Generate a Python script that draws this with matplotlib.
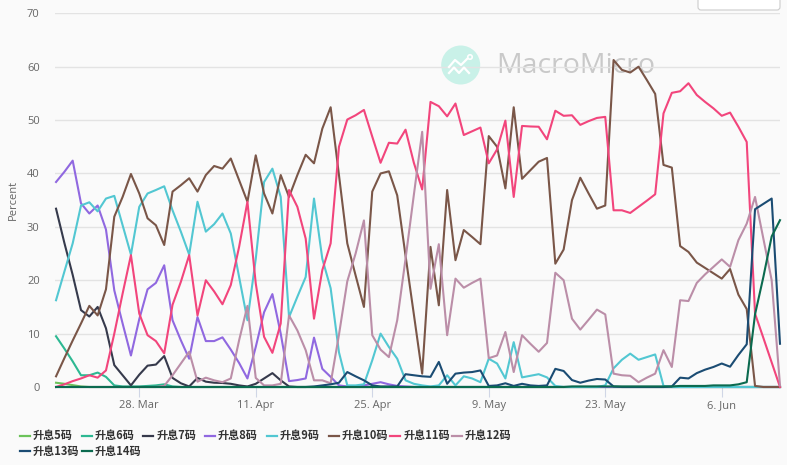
import matplotlib
matplotlib.use('Agg')
import matplotlib.pyplot as plt
import pandas as pd
from matplotlib.patches import Circle, FancyBboxPatch
from matplotlib.lines import Line2D

# ---------------- data ----------------
start_date = '2022-03-18'
n_days = 88
dates = pd.date_range(start_date, periods=n_days, freq='D')

tick_dates = ['2022-03-28', '2022-04-11', '2022-04-25', '2022-05-09', '2022-05-23', '2022-06-06']
tick_labels = ['28. Mar', '11. Apr', '25. Apr', '9. May', '23. May', '6. Jun']

names = ['升息5码', '升息6码', '升息7码', '升息8码', '升息9码',
         '升息10码', '升息11码', '升息12码', '升息13码', '升息14码']
colors = ['#6cc35a', '#2db892', '#363a4c', '#9068e0', '#52c7d2',
          '#7a5648', '#f2457c', '#bb8ea8', '#1b4c73', '#0b6a4f']

hike5 = [0.8, 0.6, 0.35, 0.1, 0, 0, 0, 0, 0, 0,
         0, 0, 0, 0, 0, 0, 0, 0, 0, 0,
         0, 0, 0, 0, 0, 0, 0, 0, 0, 0,
         0, 0, 0, 0, 0, 0, 0, 0, 0, 0,
         0, 0, 0, 0, 0, 0, 0, 0, 0, 0,
         0, 0, 0, 0, 0, 0, 0, 0, 0, 0,
         0, 0, 0, 0, 0, 0, 0, 0, 0, 0,
         0, 0, 0, 0, 0, 0, 0, 0, 0, 0,
         0, 0, 0, 0, 0, 0, 0, 0]
hike6 = [9.5, 7.2, 4.8, 2.2, 2.2, 2.7, 1.9, 0.3, 0.1, 0.1,
         0.1, 0.2, 0.3, 0.5, 0.1, 0, 0, 0, 0, 0,
         0, 0, 0, 0, 0, 0, 0, 0, 0, 0,
         0, 0, 0, 0, 0, 0, 0, 0, 0, 0,
         0, 0, 0, 0, 0, 0, 0, 0, 0, 0,
         0, 0, 0, 0, 0, 0, 0, 0, 0, 0,
         0, 0, 0, 0, 0, 0, 0, 0, 0, 0,
         0, 0, 0, 0, 0, 0, 0, 0, 0, 0,
         0, 0, 0, 0, 0, 0, 0, 0]
hike7 = [33.4, 27, 21, 14.4, 13.2, 15, 11, 4.1, 2.2, 0.3,
         2.3, 4, 4.2, 5.8, 1.7, 0.7, 0.1, 1.7, 1.0, 0.8,
         0.75, 0.6, 0.3, 0.1, 0.6, 1.6, 2.6, 1.25, 0.1, 0,
         0, 0, 0, 0, 0, 0, 0, 0, 0, 0,
         0, 0, 0, 0, 0, 0, 0, 0, 0, 0,
         0, 0, 0, 0, 0, 0, 0, 0, 0, 0,
         0, 0, 0, 0, 0, 0, 0, 0, 0, 0,
         0, 0, 0, 0, 0, 0, 0, 0, 0, 0,
         0, 0, 0, 0, 0, 0, 0, 0]
hike8 = [38.4, 40.3, 42.4, 34.4, 32.5, 34, 29.5, 18.1, 11.9, 5.9,
         12.7, 18.3, 19.5, 22.8, 12.5, 8.75, 5.3, 13.1, 8.6, 8.6,
         9.3, 7, 4.5, 1.6, 7.5, 14, 17.4, 10, 1.1, 1.3,
         1.6, 9.25, 3.4, 1.9, 0.3, 0.1, 0.1, 0.3, 0.6, 0.9,
         0.5, 0.2, 0.1, 0, 0, 0, 0, 0, 0, 0,
         0, 0, 0, 0, 0, 0, 0, 0, 0, 0,
         0, 0, 0, 0, 0, 0, 0, 0, 0, 0,
         0, 0, 0, 0, 0, 0, 0, 0, 0, 0,
         0, 0, 0, 0, 0, 0, 0, 0]
hike9 = [16.25, 21.6, 26.9, 34, 34.6, 32.9, 35.3, 35.8, 30.3, 24.8,
         33.75, 36.25, 36.9, 37.6, 33.1, 29.1, 24.8, 34.7, 29.1, 30.5,
         32.5, 28.75, 20.6, 12.5, 24, 38.4, 40.9, 35.6, 13.1, 16.9,
         20.6, 35.3, 24, 18.5, 6.5, 0.3, 0.3, 0.5, 5, 10,
         7.5, 5.3, 1.25, 0.6, 0.3, 0.1, 0.3, 2.2, 0.3, 2,
         1.6, 0.9, 5.3, 4.4, 1.6, 8.4, 1.8, 2.1, 2.4, 1.8,
         0.2, 0, 0, 0, 0, 0, 0.3, 3.5, 5.1, 6.25,
         5.1, 5.6, 6.1, 0.2, 0, 0, 0, 0, 0, 0,
         0, 0, 0, 0, 0, 0, 0, 0]
hike10 = [2, 5.4, 8.7, 11.9, 15.2, 13.4, 18.3, 31.9, 35.6, 39.9,
          36.25, 31.6, 30.3, 26.6, 36.6, 37.8, 39.1, 36.6, 39.7, 41.4,
          40.9, 42.8, 38.75, 34.7, 43.4, 36.25, 32.5, 39.7, 35.6, 39.7,
          43.5, 41.9, 48.4, 52.4, 39.7, 26.9, 20.9, 15, 36.6, 40,
          40.4, 35.9, 24.6, 13.6, 2.5, 26.25, 15.3, 36.9, 23.75, 29.4,
          28.1, 26.75, 47, 45, 37.2, 52.4, 39, 40.6, 42.2, 42.9,
          23.1, 25.75, 35, 39.2, 36.25, 33.4, 34, 61.25, 59.4, 58.9,
          60, 57.5, 54.9, 41.6, 41.1, 26.4, 25.3, 23.3, 22.3, 21.3,
          20.3, 22.1, 17.3, 14.6, 0.2, 0, 0, 0]
hike11 = [0, 0.5, 1.1, 1.6, 2.2, 1.75, 3.1, 10, 17.5, 24.7,
          13.75, 9.7, 8.6, 6.3, 15.4, 19.7, 24.7, 13.4, 20, 17.9,
          15.5, 19.1, 26.25, 34.7, 19.4, 9.4, 6.4, 11.9, 36.9, 33.75,
          27.8, 12.8, 21.9, 26.9, 45, 50.1, 50.9, 51.9, 46.9, 42,
          45.75, 45.6, 48.2, 42, 37, 53.4, 52.6, 50.7, 53.1, 47.2,
          47.9, 48.6, 41.9, 44.5, 49.9, 35.6, 48.9, 48.8, 48.75, 46.4,
          51.75, 50.8, 50.9, 49.1, 49.8, 50.4, 50.6, 33.1, 33.1, 32.6,
          33.75, 34.9, 36.1, 51.25, 55.1, 55.4, 56.9, 54.7, 53.4, 52.2,
          50.8, 51.4, 48.75, 45.9, 13.75, 9.2, 4.6, 0]
hike12 = [0, 0, 0, 0, 0, 0, 0, 0, 0, 0,
          0, 0, 0, 0.2, 2.2, 4.4, 6.6, 1.0, 1.75, 1.25,
          0.9, 1.6, 8.75, 15.2, 1.7, 0.3, 0.3, 0.6, 13.4, 10.6,
          6.9, 1.25, 1.25, 0.7, 9.8, 19.8, 25, 31.2, 9.7, 7,
          5.6, 12.5, 24, 36, 47.8, 18.4, 26.75, 9.7, 20.3, 18.6,
          19.5, 20.3, 5.4, 5.9, 10.3, 2.8, 9.7, 8.1, 6.6, 8.25,
          21.4, 20, 12.8, 10.75, 12.6, 14.5, 13.6, 2.5, 2.2, 2.1,
          0.9, 1.75, 2.5, 6.9, 3.75, 16.25, 16.1, 19.5, 21.1, 22.5,
          23.9, 22.5, 27.5, 30.6, 35.6, 27.8, 20, 0.3]
hike13 = [0, 0, 0, 0, 0, 0, 0, 0, 0, 0,
          0, 0, 0, 0, 0, 0, 0, 0, 0, 0,
          0, 0, 0, 0, 0, 0, 0, 0, 0, 0,
          0, 0.1, 0.3, 0.5, 0.8, 2.8, 2, 1.25, 0.3, 0.1,
          0.1, 0.1, 2.4, 2.2, 2, 1.9, 4.7, 0.6, 2.5, 2.7,
          2.8, 3.1, 0.2, 0.3, 0.7, 0.2, 0.6, 0.3, 0.2, 0.3,
          3.4, 3.0, 1.3, 0.8, 1.2, 1.5, 1.4, 0.1, 0, 0,
          0, 0, 0, 0, 0.1, 1.75, 1.6, 2.6, 3.25, 3.75,
          4.4, 3.8, 6, 8, 33.3, 34.3, 35.3, 8.1]
hike14 = [0, 0, 0, 0, 0, 0, 0, 0, 0, 0,
          0, 0, 0, 0, 0, 0, 0, 0, 0, 0,
          0, 0, 0, 0, 0, 0, 0, 0, 0, 0,
          0, 0, 0, 0, 0, 0, 0, 0, 0, 0,
          0, 0, 0, 0, 0, 0, 0, 0, 0, 0,
          0, 0, 0, 0, 0, 0, 0, 0, 0, 0,
          0, 0, 0.1, 0.1, 0.1, 0.1, 0.1, 0.1, 0.1, 0.1,
          0.1, 0.1, 0.1, 0.1, 0.1, 0.2, 0.2, 0.2, 0.2, 0.3,
          0.3, 0.3, 0.5, 0.9, 13.6, 20.6, 28.2, 31.25]

series = [hike5, hike6, hike7, hike8, hike9, hike10, hike11, hike12, hike13, hike14]

# ---------------- figure ----------------
W, H = 787, 465
BG = '#fafafa'
plt.rcParams['font.family'] = ['Open Sans', 'Noto Sans CJK SC', 'DejaVu Sans']

fig = plt.figure(figsize=(W / 100, H / 100), dpi=100, facecolor=BG)
ax_l, ax_r, ax_t, ax_b = 55, 780, 13.3, 387
ax = fig.add_axes([ax_l / W, 1 - ax_b / H, (ax_r - ax_l) / W, (ax_b - ax_t) / H])
ax.set_facecolor(BG)

px = fig.dpi_scale_trans
def P(x, y):
    return (x / 100, (H - y) / 100)

# watermark (behind lines)
ax.add_artist(Circle(P(460.7, 65), 0.195, transform=px, facecolor='#c9f1e8',
                     edgecolor='none', zorder=0.5))
for pts in ([(449, 67), (455, 60), (461, 65), (467.5, 58.5)],
            [(449, 73), (454, 67.5), (459, 73), (464, 67.5), (469, 73)]):
    xs = [P(a, b)[0] for a, b in pts]
    ys = [P(a, b)[1] for a, b in pts]
    ax.add_artist(Line2D(xs, ys, transform=px, color='white', lw=1.6, zorder=0.6))
ax.add_artist(Circle(P(470, 57), 0.022, transform=px, facecolor='#c9f1e8',
                     edgecolor='white', lw=1.2, zorder=0.6))
ax.text(*P(496, 66), 'MacroMicro', transform=px, fontsize=20.5, color='#bdbdbd',
        alpha=0.8, va='center', ha='left', family='Open Sans', zorder=0.5)

for name, vals, c in zip(names, series, colors):
    ax.plot(dates, vals, color=c, lw=1.5, solid_joinstyle='round', clip_on=False,
            zorder=2)

ax.set_ylim(0, 70)
ax.set_yticks(range(0, 71, 10))
ax.set_xlim(dates[0] - pd.Timedelta(hours=3), dates[-1])
ax.set_xticks(pd.to_datetime(tick_dates))
ax.set_xticklabels(tick_labels)
ax.grid(axis='y', color='#e3e3e3', lw=1)
ax.set_axisbelow(True)
for s in ax.spines.values():
    s.set_visible(False)
ax.tick_params(axis='y', length=0, pad=11, labelsize=8, labelcolor='#666666')
ax.tick_params(axis='x', length=7, width=0.8, color='#d0d6e6', pad=2.5,
               labelsize=8, labelcolor='#666666')
fig.text(*P(13, 200), 'Percent', transform=px, rotation=90, fontsize=8,
         color='#666666', ha='center', va='center')

# top-right button box
fig.patches.append(FancyBboxPatch(P(698, 10), 0.82, 0.2, transform=px,
                                  boxstyle='round,pad=0,rounding_size=0.03',
                                  facecolor='white', edgecolor='#cccccc', lw=0.8))

# legend (two rows)
for k, (name, c) in enumerate(zip(names, colors)):
    row, col = divmod(k, 8)
    x0 = 20 + 61.7 * col
    y0 = 435.5 + 15.5 * row
    fig.lines.append(Line2D([x0 / 100, (x0 + 10) / 100], [(H - y0) / 100] * 2,
                            transform=px, color=c, lw=1.6))
    fig.text(*P(x0 + 13, y0), name, transform=px, fontsize=8, fontweight='bold',
             color='#333333', va='center', ha='left',
             family=['Noto Sans CJK SC', 'DejaVu Sans'])

fig.savefig('out.png', dpi=100, facecolor=BG)
